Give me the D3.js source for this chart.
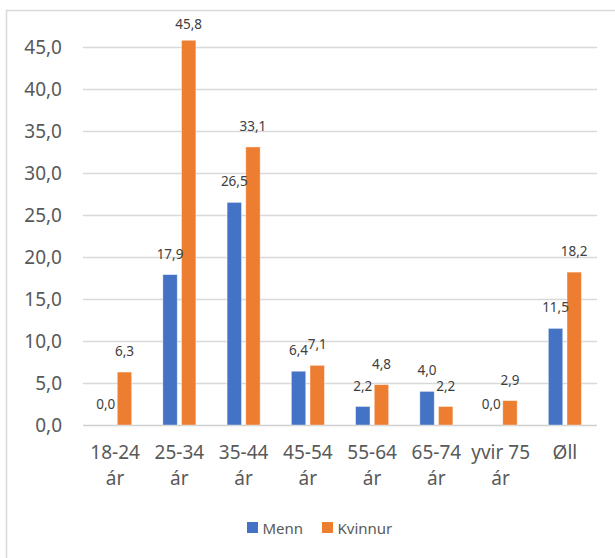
<!DOCTYPE html>
<html>
<head>
<meta charset="utf-8">
<script src="https://cdn.jsdelivr.net/npm/d3@7"></script>
<style>
  body { margin: 0; background: #fff; }
  text { font-family: "Noto Sans", "Open Sans", sans-serif; }
</style>
</head>
<body>
<svg id="chart" width="615" height="558"></svg>
<script>
// data
var categories = [["18-24", "ár"], ["25-34", "ár"], ["35-44", "ár"], ["45-54", "ár"],
                  ["55-64", "ár"], ["65-74", "ár"], ["yvir 75", "ár"], ["Øll"]];
var series = ["Menn", "Kvinnur"];
var menn = [0.0, 17.9, 26.5, 6.4, 2.2, 4.0, 0.0, 11.5];
var kvinnur = [6.3, 45.8, 33.1, 7.1, 4.8, 2.2, 2.9, 18.2];
var yTicks = [0, 5, 10, 15, 20, 25, 30, 35, 40, 45];
var colors = ["#4472C4", "#ED7D31"];

var svg = d3.select("#chart");

// chart border (only left/top show in the crop)
svg.append("rect")
  .attr("x", 6.5).attr("y", 10.5)
  .attr("width", 700).attr("height", 700)
  .attr("fill", "none")
  .attr("stroke", "#d9d9d9")
  .attr("stroke-width", 1.5);

var x0 = d3.scaleBand()
  .domain(d3.range(categories.length))
  .range([83, 597])
  .padding(0);

var bw = x0.bandwidth();
var x1 = d3.scaleBand()
  .domain(series)
  .range([bw * 0.243, bw * 0.757])
  .paddingInner(0.23);

var y = d3.scaleLinear()
  .domain([0, 50])
  .range([425, 5]);

// gridlines
svg.append("g")
  .selectAll("line")
  .data(yTicks)
  .enter()
  .append("line")
  .attr("x1", 83).attr("x2", 597)
  .attr("y1", function (d) { return y(d) + 0.5; })
  .attr("y2", function (d) { return y(d) + 0.5; })
  .attr("stroke", function (d) { return d === 0 ? "#d0d0d0" : "#d9d9d9"; })
  .attr("stroke-width", 1.3);

// y tick labels
svg.append("g")
  .selectAll("text")
  .data(yTicks)
  .enter()
  .append("text")
  .attr("x", 62)
  .attr("y", function (d) { return y(d); })
  .attr("text-anchor", "end")
  .attr("dominant-baseline", "central")
  .attr("font-size", 19)
  .attr("fill", "#595959")
  .text(function (d) { return d.toFixed(1).replace(".", ","); });

// bars
var rows = categories.map(function (c, i) {
  return [{ s: "Menn", v: menn[i], c: colors[0] }, { s: "Kvinnur", v: kvinnur[i], c: colors[1] }];
});

var groups = svg.append("g")
  .selectAll("g")
  .data(rows)
  .enter()
  .append("g")
  .attr("transform", function (d, i) { return "translate(" + x0(i) + ",0)"; });

groups.selectAll("rect")
  .data(function (d) { return d; })
  .enter()
  .append("rect")
  .attr("x", function (d) { return x1(d.s); })
  .attr("width", x1.bandwidth())
  .attr("y", function (d) { return y(d.v); })
  .attr("height", function (d) { return y(0) - y(d.v); })
  .attr("fill", function (d) { return d.c; })
  .attr("stroke", "rgba(255,255,255,0.5)")
  .attr("stroke-width", 0.75);

// value labels
groups.selectAll("text")
  .data(function (d) { return d; })
  .enter()
  .append("text")
  .attr("x", function (d) { return x1(d.s) + x1.bandwidth() / 2; })
  .attr("y", function (d) { return Math.max(y(d.v) - 21, 24); })
  .attr("text-anchor", "middle")
  .attr("dominant-baseline", "central")
  .attr("font-size", 13.5)
  .attr("fill", "#404040")
  .text(function (d) { return d.v.toFixed(1).replace(".", ","); });

// category labels
var cat = svg.append("g")
  .selectAll("text")
  .data(categories)
  .enter()
  .append("text")
  .attr("x", function (d, i) { return x0(i) + bw / 2; })
  .attr("y", 452)
  .attr("text-anchor", "middle")
  .attr("font-size", 19)
  .attr("fill", "#595959");

cat.selectAll("tspan")
  .data(function (d) { return d; })
  .enter()
  .append("tspan")
  .attr("x", function () { return this.parentNode.getAttribute("x"); })
  .attr("y", function (d, j) { return 452 + j * 26; })
  .attr("dominant-baseline", "central")
  .text(function (d) { return d; });

// legend
var legendX = [247, 322];
var legend = svg.append("g")
  .selectAll("g")
  .data(series)
  .enter()
  .append("g")
  .attr("transform", function (d, i) { return "translate(" + legendX[i] + ",522)"; });

legend.append("rect")
  .attr("width", 11).attr("height", 11)
  .attr("fill", function (d, i) { return colors[i]; });

legend.append("text")
  .attr("x", 15.5)
  .attr("y", 5.5)
  .attr("dominant-baseline", "central")
  .attr("font-size", 15)
  .attr("fill", "#595959")
  .text(function (d) { return d; });
</script>
</body>
</html>
